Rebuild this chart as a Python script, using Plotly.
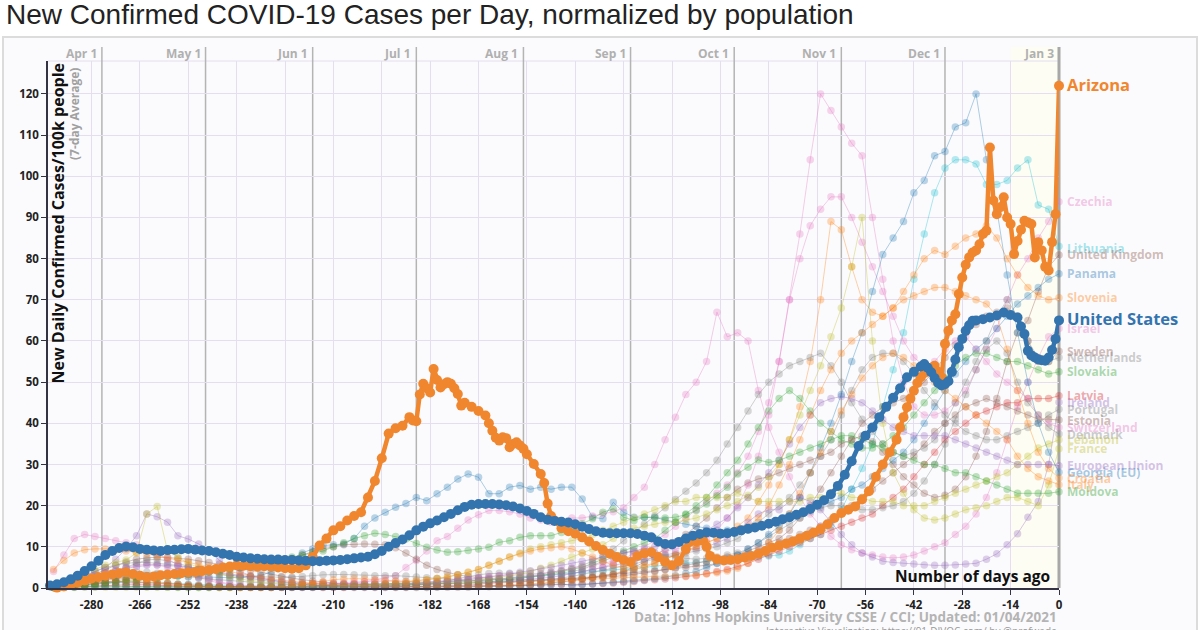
import plotly.graph_objects as go

# ---------------- data ----------------
# background countries: value every 3rd day, days -291 .. 0
bg_days = list(range(-291, 1, 3))

czechia = [0.1,0.3,0.5,0.8,1.0,1.2,1.3,1.2,1.0,0.9, 0.8,0.6,0.5,0.4,0.3,0.3,0.3,0.3,0.3,0.4,
           0.5,0.6,0.6,0.7,0.9,1.1,1.2,1.1,1.0,1.0, 0.9,0.9,0.9,1.0,1.1,1.2,1.4,1.6,1.8,2.0,
           1.5,1.6,1.8,2.0,2.2,2.4,2.6,2.8,3.0,3.2, 3.5,4,4.5,5,6,7,8.5,10,11.5,13,
           15,17,19,21,23,25,28,32,38,45, 55,70,86,104,120,116,112,108,105,90,
           75,60,50,44,42,42,43,45,48,53, 58,63,70,76,80,85,89,93.8]
israel = [0.3,0.6,1.0,1.8,2.7,3.6,4.4,5.0,5.5,5.8, 5.6,5.0,4.2,3.3,2.5,1.8,1.2,0.8,0.5,0.3,
          0.2,0.2,0.2,0.2,0.3,0.4,0.5,0.7,0.9,1.2, 1.5,2,2.5,3,5,6.7,9,11.5,12.5,14.5,
          16.5,17.8,18.8,18.8,18.5,18,17,16.5,16,15.5, 17,17,17.5,18,18.5,19.5,22,24.5,30,36,
          41.5,47,50,55,67,61,62,60,48,39, 33,27,22,18,15,12.5,10.5,9.3,8.5,8,
          7.5,7.3,7.5,8,9,10,11,13,15,18, 22,28,36,44,50,56,61,63]
switzerland = [4,8,12,13,12.5,12,11.5,11,10.5,9.5, 8.5,7,5.5,4.2,3,2.2,1.5,1,0.7,0.5,
               0.4,0.3,0.3,0.3,0.4,0.5,0.7,1,1.3,1.5, 1.5,1.6,1.6,1.7,1.6,1.5,1.5,1.6,1.8,2.0,
               2.2,2.5,2.8,3.0,3.0,2.9,3.0,3.3,3.8,4.3, 4.8,5.2,5.5,6.0,6.5,7.0,7.5,8.0,8.5,9.0,
               9.5,10,11,12,14,17,20,25,32,42, 55,70,80,88,92,95,95,90,84,78,
               72,66,60,56,54,55,58,60,61,58, 55,52,50,48,46,42,40,39]
lithuania = [0.2,0.3,0.5,0.8,1.0,1.2,1.3,1.4,1.5,1.4, 1.3,1.2,1.0,0.9,0.8,0.7,0.6,0.5,0.5,0.4,
             0.4,0.4,0.4,0.4,0.5,0.5,0.6,0.7,0.8,0.8, 0.8,0.9,1.0,1.0,1.1,1.2,1.3,1.4,1.5,1.6,
             1.7,1.8,2.0,2.2,2.4,2.6,2.8,3.0,3.2,3.4, 3.5,3.7,3.9,4.1,4.3,4.5,4.7,5.0,5.3,5.6,
             5.8,6.0,6.2,6.4,6.6,6.8,7.0,7.2,7.5,7.8, 8,9,10.5,12,13,15,19,24,29,35,
             44,53,62,75,86,96,102,104,104,103, 98,98,99,102,104,93,92,83]
united_kingdom = [0.3,0.6,1.2,2.2,3.3,4.5,5.5,6.3,7.0,7.3, 7.5,7.4,7.2,7.0,6.6,6.2,5.8,5.3,4.8,4.3,
                  3.8,3.3,2.8,2.4,2.0,1.7,1.4,1.2,1.1,1.0, 1.0,0.9,0.9,0.9,0.9,1.0,1.0,1.1,1.1,1.2,
                  1.2,1.3,1.3,1.4,1.5,1.6,1.6,1.7,1.8,1.9, 2.0,2.2,2.5,2.8,3.2,4.0,5.0,6.3,7.8,9.5,
                  11,13,15,17,19.5,22,24,25.5,26.5,27, 28,29,30,31,32,33,35,36,37,35.5,
                  33,30,27,25,23,22,22.5,24,27,32, 38,46,55,62,65,72,78,80.9]
panama = [0.2,0.4,0.8,1.2,1.6,2.0,2.3,2.6,2.8,3.0, 3.0,3.0,2.9,2.8,2.7,2.6,2.5,2.5,2.6,2.8,
          3,4,5.5,7,8.5,9.5,10.3,10.5,10.7,12, 15,17,18.4,19.6,20.5,22,21.2,22.9,24.5,26.5,
          27.7,26.9,22.9,22.9,24.5,24.9,24,24.5,24,24.5, 24.5,21.6,17.2,16.8,20.8,18.4,17.2,17.2,17.2,16.5,
          16,15.5,15,14.5,14,14,14,14.5,15,15.5, 16,17,18,19,20,21,22,24,25,27,
          29,31,33,36,40,44,48,52,55,58, 60,63,66,69,71,73,75,76.3]
georgia = [0.1,0.1,0.2,0.3,0.3,0.4,0.4,0.4,0.4,0.4, 0.4,0.4,0.3,0.3,0.3,0.2,0.2,0.2,0.2,0.2,
           0.2,0.2,0.2,0.2,0.2,0.2,0.3,0.3,0.3,0.3, 0.3,0.3,0.3,0.3,0.3,0.3,0.3,0.3,0.4,0.4,
           0.4,0.4,0.4,0.4,0.5,0.5,0.6,0.7,0.8,1.0, 0.6,0.8,1,1.2,1.4,1.6,1.8,2,2.3,2.6,
           3,3.5,4,5,6,7,8,9.5,11,13, 15,18,22,28,34,40,47,55,62,72,
           81,85,89,96,99,105,106,112,113,120, 104,92,76,62,50,40,33,28.1]
slovenia = [0.2,0.5,1.0,1.5,2.0,2.3,2.4,2.3,2.1,1.8, 1.5,1.2,0.9,0.7,0.5,0.4,0.3,0.2,0.2,0.2,
            0.2,0.2,0.3,0.4,0.5,0.5,0.6,0.6,0.7,0.8, 0.9,1.0,1.0,1.0,1.0,0.9,0.9,0.9,1.0,1.0,
            1.0,1.0,1.1,1.2,1.3,1.4,1.5,1.6,1.8,2.0, 2.2,2.5,2.8,3.0,3.5,4.0,4.5,5.0,6.0,7.0,
            8,9,10,11,12,13,15,17,21,25, 30,36,44,55,70,89,87,78,70,67,
            66,68,72,76,80,82,81,83,85,86, 88,85,80,76,73,71,70,70.5]
croatia = [0.1,0.3,0.6,1.0,1.3,1.5,1.6,1.6,1.5,1.3, 1.1,0.9,0.7,0.5,0.4,0.3,0.2,0.2,0.1,0.1,
           0.1,0.2,0.3,0.5,0.8,1.2,1.6,2.0,2.2,2.3, 2.2,2.0,1.8,1.7,1.6,1.8,2.0,2.3,2.7,3.2,
           3.8,4.5,5.5,6.5,7.5,8.3,9.0,9.5,9.8,10.0, 9.5,8.5,7.5,6.5,5.5,5.0,5.0,5.5,6.0,7.0,
           8,9,10,11,12,13,14,15,17,20, 25,30,36,42,48,53,57,60,62,64,
           66,68,70,71,72,73,73,72,71,70, 69,66,58,48,40,33,29,26.7]
italy = [4.5,6.7,8.5,9.3,9.5,9.5,9.3,9.0,8.7,8.3, 7.8,7.3,6.8,6.3,5.7,5.1,4.5,4.0,3.5,3.0,
         2.6,2.2,1.9,1.6,1.3,1.1,0.9,0.7,0.6,0.5, 0.45,0.4,0.4,0.35,0.35,0.35,0.35,0.35,0.4,0.4,
         0.4,0.45,0.5,0.6,0.7,0.8,1.0,1.2,1.4,1.6, 1.8,2.0,2.2,2.3,2.4,2.5,2.5,2.6,2.7,2.8,
         2.9,3.0,3.2,3.4,3.7,4.1,4.8,6.0,8.0,11, 14,18,23,28,33,38,43,47,51,54,
         56,57,56,54,52,50,48,46,44,42, 40,38,36,32,29,27,26,25.1]
sweden = [0.2,0.3,0.5,0.8,1.1,1.4,1.8,2.1,2.5,2.9, 3.3,3.7,4.0,4.3,4.5,4.6,4.7,4.8,5.0,5.3,
          5.6,6.0,6.5,7.2,8.0,8.8,9.5,10.0,10.5,10.6, 10.7,10.6,10.5,9.8,8.5,7.0,5.5,4.5,3.8,3.2,
          2.8,2.5,2.3,2.1,2.0,1.9,1.9,2.0,2.1,2.2, 2.3,2.4,2.5,2.6,2.8,3.0,3.3,3.6,4.0,4.5,
          5,5.5,6,6.5,7,7.5,8,9,10,11, 12,14,17,20,24,28,32,36,40,42,
          44,45,46,48,50,53,56,59,62,64, 66,67,68,66,60,55,55,57.5]
netherlands = [0.5,1.0,2.0,3.0,4.0,5.0,5.5,6.0,6.2,6.2, 6.0,5.8,5.5,5.1,4.6,4.1,3.6,3.1,2.7,2.3,
               1.9,1.6,1.3,1.1,0.9,0.7,0.6,0.5,0.5,0.5, 0.5,0.5,0.5,0.6,0.7,0.8,1.0,1.3,1.7,2.3,
               2.8,3.2,3.5,3.6,3.6,3.5,3.4,3.5,3.8,4.2, 4.8,5.5,6.5,7.8,9.5,11.5,13.5,15.5,17.5,19.5,
               21.5,23.5,25.5,28,31,35,39,43,47,50, 52,54,55,56,57,54,50,45,41,38,
               35,33,32,33,34,36,40,45,50,55, 60,66,70,66,60,56,55,56]
slovakia = [0.1,0.2,0.3,0.4,0.5,0.5,0.5,0.4,0.4,0.3, 0.3,0.2,0.2,0.1,0.1,0.1,0.1,0.1,0.1,0.1,
            0.1,0.1,0.2,0.2,0.3,0.3,0.4,0.4,0.5,0.5, 0.5,0.5,0.6,0.7,0.8,0.9,1.0,1.0,1.0,1.1,
            1.2,1.3,1.5,1.7,2.0,2.3,2.6,3.0,3.5,4.0, 4.5,5,6,7,8,9,10,11,12,14,
            16,18,20,22,25,28,31,35,39,43, 46,48,46,43,40,38,36,35,34,34,
            35,37,39,42,45,48,51,54,56,57, 57,56,55,55,54,53,52,52.5]
latvia = [0.1,0.2,0.3,0.5,0.6,0.7,0.8,0.8,0.8,0.7, 0.7,0.6,0.5,0.4,0.4,0.3,0.3,0.3,0.2,0.2,
          0.2,0.2,0.2,0.2,0.2,0.2,0.2,0.2,0.2,0.3, 0.3,0.3,0.3,0.3,0.3,0.4,0.4,0.4,0.5,0.5,
          0.5,0.5,0.6,0.6,0.6,0.7,0.7,0.7,0.8,0.8, 0.8,0.9,1.0,1.1,1.2,1.4,1.6,1.8,2.0,2.2,
          2.5,2.8,3.0,3.5,4.0,4.5,5.2,6.0,7.0,8.0, 9,10,11,12,13,14,15,16,17,18,
          20,22,24,27,30,33,36,38,40,42, 43,44,45,45,46,46,46,46.7]
ireland = [0.5,1.0,2.0,3.0,4.0,5.0,7.0,9.5,12.7,18, 17.3,16,12.7,11.9,10.7,9.2,6.7,5.2,4.0,3.0,
           2.4,1.9,1.5,1.2,0.9,0.7,0.6,0.5,0.4,0.3, 0.3,0.3,0.3,0.3,0.3,0.4,0.4,0.5,0.5,0.6,
           0.7,0.9,1.1,1.4,1.7,1.9,2.1,2.3,2.6,3.0, 3.5,4.0,4.5,5.0,5.5,6.0,6.5,7.0,7.5,8.0,
           8.5,9,9.5,10,11,12,14,16,18,19, 19,21,22,21,19,16,13,10.5,8.5,7.5,
           6.5,6.2,6.0,5.8,5.6,5.5,5.5,5.6,5.8,6.0, 7,8.3,10.5,13.2,17.2,21,30,45.1]
portugal = [0.3,0.6,1.0,1.5,2.2,3.0,4.0,5.0,6.0,6.8, 7.0,6.6,6.0,5.3,4.5,3.8,3.3,3.0,2.9,2.8,
            2.7,2.6,2.6,2.7,2.8,3.0,3.2,3.3,3.3,3.2, 3.1,3.0,3.0,3.0,2.9,2.7,2.5,2.3,2.2,2.1,
            2.0,1.8,1.6,1.5,1.5,1.6,1.7,1.9,2.1,2.4, 2.8,3.3,3.8,4.3,4.8,5.3,5.8,6.5,7.0,7.5,
            8,8.5,9,9.5,10,11,12,14,16,18, 20,22,25,28,32,36,42,48,53,56,
            57,57,55,52,48,45,42,40,38,37, 36,36,37,38,39,40,42,43.4]
estonia = [0.2,0.4,0.6,0.9,1.2,1.4,1.5,1.5,1.4,1.3, 1.2,1.1,0.9,0.8,0.6,0.5,0.4,0.3,0.3,0.2,
           0.2,0.1,0.1,0.1,0.1,0.1,0.1,0.1,0.1,0.1, 0.1,0.1,0.1,0.1,0.1,0.1,0.1,0.2,0.2,0.2,
           0.2,0.3,0.3,0.4,0.5,0.6,0.8,1.0,1.2,1.5, 1.8,2.2,2.7,3.0,3.3,3.5,3.8,4.0,4.2,4.5,
           4.8,5.0,5.3,5.5,6.0,6.5,7.0,8.0,9.0,10, 11,12,13,14,15,16.5,18,20,22,24,
           26,28,30,32,35,38,40,42,44,45, 46,45,44,43,42,41,41,40.8]
denmark = [0.2,0.5,1.0,1.6,2.2,2.8,3.3,3.6,3.8,3.8, 3.6,3.3,3.0,2.7,2.4,2.2,2.0,1.8,1.6,1.4,
           1.2,1.0,0.9,0.8,0.7,0.6,0.5,0.5,0.5,0.5, 0.5,0.5,0.5,0.5,0.6,0.7,0.8,1.0,1.2,1.4,
           1.6,1.8,2.0,2.2,2.4,2.6,2.8,3.0,3.3,3.6, 4.0,4.5,5.5,6.5,7.5,8.5,9.0,9.0,8.5,8.0,
           7.5,7.2,7.0,7.2,7.5,8.0,8.5,9.5,11,12.5, 14,15.5,17,18.5,19.5,20,20,19.5,19,19,
           19.5,20,21,23,26,30,35,41,47,53, 58,60,57,50,45,42,39,37.4]
lebanon = [0.1,0.1,0.1,0.2,0.2,0.2,0.2,0.2,0.2,0.2, 0.2,0.2,0.1,0.1,0.1,0.1,0.1,0.1,0.2,0.3,
           0.4,0.3,0.3,0.3,0.4,0.4,0.4,0.4,0.4,0.5, 0.6,0.8,1.0,1.2,1.4,1.7,2.0,2.3,2.7,3.2,
           3.8,4.5,5.5,6.5,7.5,8.5,9.5,10,10.5,11, 11.5,12,13,14,15,16,17,18,19,20,
           21,21,22,22,22,22,23,22,21,21, 21,21,21,22,22,23,23,22,22,21,
           21,21,20,20,20,21,22,23,24,25, 26,27,28,30,32,34,35,36]
france = [0.8,1.5,2.5,3.5,4.5,5.5,6.2,6.8,8.5,18, 19.8,9,7.5,6,5,4.2,3.5,2.8,2.2,1.8,
          1.5,1.3,1.1,1.0,0.9,0.8,0.8,0.8,0.8,0.8, 0.8,0.8,0.8,0.9,1.0,1.1,1.2,1.3,1.4,1.5,
          1.7,1.9,2.2,2.6,3.0,3.5,4.0,4.8,5.5,6.5, 7.5,8.5,9.5,10.5,12,13.5,14.5,15,15.5,16,
          16,16.5,17,18,19,20,21,22.5,24.5,27, 30,36,42,48,54,61,68,78,90,60,
          40,28,23,19,17,16.5,17,18,19,19.5, 20,21,22,22,21,20,25,33.8]
european_union = [0.5,1.0,1.6,2.3,3.0,3.7,4.3,4.8,5.2,5.5, 5.6,5.5,5.3,5.0,4.6,4.2,3.8,3.4,3.0,2.6,
                  2.2,1.9,1.6,1.4,1.2,1.1,1.0,0.9,0.9,0.9, 0.9,0.9,0.9,1.0,1.0,1.1,1.2,1.3,1.5,1.7,
                  2.0,2.3,2.6,3.0,3.4,3.8,4.2,4.6,5.0,5.5, 6.0,6.5,7.0,7.5,8.0,8.5,9.0,9.5,10,10.5,
                  11,12,13,14,15.5,17,19.5,22,25,28, 31,35,39,42,45,46,46.5,46,45,43,
                  41,39,38,37,37,37,37,36,35,34, 33,32,31,30,30,30,30,29.7]
moldova = [0.1,0.2,0.4,0.6,0.9,1.2,1.5,1.8,2.0,2.3, 2.5,2.8,3.0,3.3,3.6,3.9,4.2,4.5,5.0,5.5,
           6,6.5,7,7.5,8,8.5,9,10,11,12, 12.7,13.3,13.0,12.5,11.9,10.8,9.9,9.2,8.7,8.8,
           9.1,9.5,9.9,11.1,11.5,12.3,12.7,12.7,12.7,13.5, 14,15.6,16.8,18.4,19.2,17.2,16.4,17.2,17,17,
           17.2,17.8,18.8,20.4,22.4,24.5,27.7,29.3,31.1,30.5, 31,32,33,34,35,36,37,37,36,35,
           34,33,32,31,30,30,29,28,28,27, 26,25,24,23,23,23,23,23.4]

# highlighted series: (days ago, cases per 100k)
arizona = [(-290,0.1),(-288,0.4),(-286,0.8),(-284,1.3),(-282,1.8),(-280,2.3),(-278,2.6),(-276,3.0),
           (-274,3.3),(-272,3.6),(-270,3.8),(-268,3.4),(-266,3.0),(-264,2.6),(-262,2.8),(-260,3.1),
           (-258,3.2),(-256,3.4),(-254,3.6),(-252,3.8),(-250,3.9),(-248,4.1),(-246,4.3),(-244,4.6),
           (-242,5.0),(-240,5.2),(-238,5.5),(-236,5.4),(-234,5.3),(-232,5.2),(-230,5.3),(-228,5.2),
           (-226,5.0),(-224,4.8),(-222,4.7),(-220,4.8),(-218,5.5),(-216,7.5),(-214,10.3),(-212,12.0),
           (-210,14.0),(-208,15.0),(-206,16.4),(-204,17.5),(-202,18.4),(-200,22.0),(-198,26.0),
           (-196,31.5),(-194,37.5),(-192,38.8),(-190,39.4),(-188,41.5),(-187,40.7),(-186,40.5),
           (-185,47.0),(-184,49.6),(-183,48.5),(-182,47.5),(-181,53.2),(-180,50.5),(-179,48.7),
           (-178,49.5),(-177,50.0),(-176,49.6),(-175,48.5),(-174,47.1),(-173,44.3),(-172,45.0),
           (-170,44.0),(-168,43.0),(-166,41.9),(-165,40.0),(-164,38.2),(-163,36.5),(-162,35.8),
           (-161,36.6),(-160,36.4),(-159,34.2),(-158,35.0),(-157,35.4),(-156,34.6),(-155,33.8),
           (-154,32.5),(-152,30.1),(-150,27.7),(-149,25.5),(-148,20.5),(-147,17.5),(-146,16.4),
           (-144,14.5),(-142,13.8),(-140,13.2),(-138,12.3),(-136,11.3),(-134,10.2),(-132,9.2),
           (-130,8.3),(-128,7.5),(-126,6.8),(-124,6.3),(-122,7.8),(-120,8.4),(-118,8.7),(-116,7.5),
           (-114,6.3),(-112,5.5),(-110,6.5),(-108,9.5),(-107,11.1),(-105,11.3),(-103,11.5),
           (-102,10.0),(-101,7.8),(-99,7.0),(-97,6.7),(-95,6.8),(-93,7.0),(-91,7.4),(-89,7.8),
           (-87,8.3),(-85,9.0),(-83,9.8),(-81,10.3),(-79,10.8),(-77,11.3),(-75,12.0),(-73,12.7),
           (-71,13.5),(-69,14.3),(-67,15.5),(-65,17.0),(-63,18.2),(-61,19.0),(-59,19.8),(-57,21.5),
           (-55,23.5),(-53,27.0),(-51,30.0),(-49,33.0),(-47,36.0),(-46,39.0),(-45,41.5),(-44,43.9),
           (-43,46.0),(-42,47.9),(-41,49.8),(-40,51.2),(-39,52.2),(-38,52.8),(-37,53.5),(-36,54.0),
           (-35,52.5),(-34,51.2),(-33,59.3),(-32,62.5),(-31,65.0),(-30,66.5),(-29,71.4),(-28,75.4),
           (-27,78.5),(-26,80.3),(-25,81.5),(-24,82.0),(-23,83.5),(-22,86.0),(-21,86.8),(-20,107.0),
           (-19,94.1),(-18,90.8),(-17,92.5),(-16,94.9),(-15,90.0),(-14,88.4),(-13,81.1),(-12,84.3),
           (-11,87.0),(-10,89.2),(-9,88.8),(-8,88.4),(-7,80.3),(-6,84.0),(-5,82.0),(-4,78.0),
           (-3,77.1),(-2,84.0),(-1,90.8),(0,122.0)]
united_states = [(-292,0.6),(-290,0.9),(-288,1.4),(-286,2.1),(-284,3.0),(-282,4.1),(-280,5.3),
                 (-278,6.6),(-276,8.0),(-274,9.0),(-272,9.7),(-270,10.1),(-268,9.9),(-266,9.5),
                 (-264,9.3),(-262,9.1),(-260,9.0),(-258,9.2),(-256,9.3),(-254,9.4),(-252,9.5),
                 (-250,9.3),(-248,9.1),(-246,9.0),(-244,8.7),(-242,8.3),(-240,8.0),(-238,7.6),
                 (-236,7.4),(-234,7.2),(-232,7.1),(-230,7.0),(-228,6.9),(-226,6.9),(-224,6.8),
                 (-222,6.8),(-220,6.7),(-218,6.6),(-216,6.5),(-214,6.5),(-212,6.6),(-210,6.7),
                 (-208,6.8),(-206,7.0),(-204,7.2),(-202,7.4),(-200,7.6),(-198,8.2),(-196,9.0),
                 (-194,10.0),(-192,10.9),(-190,11.8),(-188,12.8),(-186,14.0),(-184,14.9),(-182,15.7),
                 (-180,16.4),(-178,17.2),(-176,18.0),(-174,18.9),(-172,19.7),(-170,20.2),(-168,20.4),
                 (-166,20.4),(-164,20.4),(-162,20.3),(-160,20.1),(-158,19.8),(-156,19.3),(-154,18.7),
                 (-152,18.0),(-150,17.2),(-148,16.6),(-146,16.3),(-144,16.1),(-142,15.9),(-140,15.5),
                 (-138,14.9),(-136,14.3),(-134,13.8),(-132,13.4),(-130,13.3),(-128,13.3),(-126,13.3),
                 (-124,13.3),(-122,13.1),(-120,12.7),(-118,12.3),(-116,11.3),(-114,10.7),(-112,10.6),
                 (-110,11.2),(-108,12.0),(-106,12.7),(-104,13.1),(-102,13.5),(-100,13.4),(-98,13.2),
                 (-96,13.3),(-94,13.6),(-92,14.0),(-90,14.4),(-88,14.7),(-86,15.1),(-84,15.6),
                 (-82,16.1),(-80,16.7),(-78,17.2),(-76,17.8),(-74,18.4),(-72,19.2),(-70,20.2),
                 (-68,21.3),(-66,22.8),(-64,24.8),(-62,27.5),(-60,30.8),(-58,34.5),(-56,37.0),
                 (-54,39.0),(-52,41.5),(-50,44.0),(-48,46.2),(-46,48.5),(-44,51.2),(-42,52.5),
                 (-40,53.8),(-39,54.4),(-38,53.5),(-37,52.4),(-36,51.0),(-35,49.8),(-34,49.2),
                 (-33,49.5),(-32,50.2),(-31,52.5),(-30,55.5),(-29,58.5),(-28,60.5),(-27,62.5),
                 (-26,63.8),(-25,64.9),(-24,65.0),(-22,65.3),(-20,65.7),(-18,66.2),(-16,66.9),
                 (-14,66.3),(-12,65.7),(-11,63.5),(-10,61.7),(-9,57.6),(-8,56.5),(-7,56.0),(-6,55.5),
                 (-5,55.3),(-4,55.2),(-3,56.0),(-2,57.8),(-1,60.5),(0,65.0)]

bg_names = ["Czechia", "Lithuania", "United Kingdom", "Panama", "Slovenia", "Israel", "Sweden",
            "Netherlands", "Slovakia", "Latvia", "Ireland", "Portugal", "Estonia", "Switzerland",
            "Denmark", "Lebanon", "France", "European Union", "Georgia (EU)", "Croatia", "Italy",
            "Moldova"]
bg_values = [czechia, lithuania, united_kingdom, panama, slovenia, israel, sweden, netherlands,
             slovakia, latvia, ireland, portugal, estonia, switzerland, denmark, lebanon, france,
             european_union, georgia, croatia, italy, moldova]
# vertical position of the end labels (label collision-avoided positions)
bg_label_y = [93.8, 82.4, 80.9, 76.3, 70.5, 63.0, 57.5, 56.0, 52.5, 46.7, 45.1, 43.4, 40.8, 39.0,
              37.4, 36.0, 33.8, 29.7, 28.1, 26.7, 25.1, 23.4]
arizona_label_y = 122.2
us_label_y = 65.4

x_ticks = list(range(-280, 1, 14))
y_ticks = list(range(0, 121, 10))
month_labels = ["Apr 1", "May 1", "Jun 1", "Jul 1", "Aug 1", "Sep 1", "Oct 1", "Nov 1", "Dec 1", "Jan 3"]
month_days = [-277, -247, -216, -186, -155, -124, -94, -63, -33, 0]

# ---------------- styling ----------------
PINK, CYAN, BROWN, BLUE = (227, 119, 194), (23, 190, 207), (140, 86, 75), (31, 119, 180)
ORANGE, GRAY, GREEN, RED = (255, 127, 14), (127, 127, 127), (44, 160, 44), (214, 39, 40)
PURPLE, OLIVE = (148, 103, 189), (188, 189, 34)
bg_colors = [PINK, CYAN, BROWN, BLUE, ORANGE, PINK, BROWN, GRAY, GREEN, RED, PURPLE, GRAY, BROWN,
             PINK, GRAY, OLIVE, OLIVE, PURPLE, BLUE, ORANGE, ORANGE, GREEN]
AZ_COLOR = "#f0862e"
US_COLOR = "#3474ae"
FONT = "Open Sans"

def rgba(c, a):
    return "rgba(%d,%d,%d,%.2f)" % (c[0], c[1], c[2], a)

W, H = 1200, 630
ML, MR, MT, MB = 48, 141, 61, 42
PW, PH = W - ML - MR, H - MT - MB
XR = [-292.6, 0]
YR = [0, 128]

def px(p):   # pixel x -> paper
    return (p - ML) / PW

def py(p):   # pixel y -> paper
    return (H - MB - p) / PH

def dx(d):   # day -> paper x
    return (d - XR[0]) / (XR[1] - XR[0])

fig = go.Figure()

for name, vals, col in zip(bg_names, bg_values, bg_colors):
    fig.add_trace(go.Scatter(
        x=bg_days, y=vals, mode="lines+markers", name=name, cliponaxis=False,
        line=dict(color=rgba(col, 0.36), width=1),
        marker=dict(color=rgba(col, 0.30), size=7.5, line=dict(width=0)),
        hoverinfo="skip"))

fig.add_trace(go.Scatter(
    x=[d for d, _ in arizona], y=[v for _, v in arizona], mode="lines+markers", name="Arizona",
    cliponaxis=False, line=dict(color=AZ_COLOR, width=4.5), marker=dict(color=AZ_COLOR, size=10),
    hoverinfo="skip"))
fig.add_trace(go.Scatter(
    x=[d for d, _ in united_states], y=[v for _, v in united_states], mode="lines+markers",
    name="United States", cliponaxis=False, line=dict(color=US_COLOR, width=4.5),
    marker=dict(color=US_COLOR, size=10), hoverinfo="skip"))

shapes = []
# outer panel
shapes.append(dict(type="rect", xref="paper", yref="paper", x0=px(3), x1=px(1197), y0=py(660), y1=py(37),
                   fillcolor="#fbfbfd", line=dict(color="#dcdcdc", width=2), layer="below"))
# last-14-days band
shapes.append(dict(type="rect", xref="paper", yref="paper", x0=dx(-14), x1=dx(0), y0=0, y1=py(47),
                   fillcolor="#fdfdf3", line=dict(width=0), layer="below"))
# top grid line
shapes.append(dict(type="line", xref="paper", yref="paper", x0=0, x1=1, y0=1, y1=1,
                   line=dict(color="#e4def0", width=1), layer="below"))
# month lines
for d in month_days:
    shapes.append(dict(type="line", xref="paper", yref="paper", x0=dx(d), x1=dx(d), y0=0, y1=py(47),
                       line=dict(color="#b4b4b4" if d != 0 else "#a8a8a8", width=1.5 if d != 0 else 3),
                       layer="below"))

ann = []
ann.append(dict(text="New Confirmed COVID-19 Cases per Day, normalized by population",
                xref="paper", yref="paper", x=px(4), y=py(14), xanchor="left", yanchor="middle",
                showarrow=False, font=dict(family="Liberation Sans", size=28, color="#222222")))
for lab, d in zip(month_labels, month_days):
    ann.append(dict(text=lab, xref="x", yref="paper", x=d, xshift=-3, y=py(53), xanchor="right",
                    yanchor="middle", showarrow=False,
                    font=dict(family=FONT, size=12, color="#b0b0b0", weight="bold")))
ann.append(dict(text="New Daily Confirmed Cases/100k people", textangle=-90, xref="paper", yref="paper",
                x=px(57), y=py(61), xanchor="center", yanchor="top", showarrow=False,
                font=dict(family=FONT, size=16, color="#111111", weight="bold")))
ann.append(dict(text="(7-day Average)", textangle=-90, xref="paper", yref="paper",
                x=px(74), y=py(66), xanchor="center", yanchor="top", showarrow=False,
                font=dict(family=FONT, size=12, color="#a0a0a0", weight="bold")))
ann.append(dict(text="Number of days ago", xref="x", yref="paper", x=0, xshift=-7, y=py(576),
                xanchor="right", yanchor="middle", showarrow=False,
                font=dict(family=FONT, size=15.5, color="#111111", weight="bold")))
ann.append(dict(text="Data: Johns Hopkins University CSSE / CCI; Updated: 01/04/2021", xref="x",
                yref="paper", x=0, y=py(617), xanchor="right", yanchor="middle", showarrow=False,
                font=dict(family=FONT, size=13.5, color="#b4b4b4", weight="bold")))
ann.append(dict(text="Interactive Visualization: https://91-DIVOC.com/ by @profwade", xref="x",
                yref="paper", x=0, y=py(631), xanchor="right", yanchor="middle", showarrow=False,
                font=dict(family=FONT, size=10, color="#999999")))
for name, col, ly in zip(bg_names, bg_colors, bg_label_y):
    ann.append(dict(text=name, xref="x", yref="y", x=0, y=ly, xshift=6, xanchor="left",
                    yanchor="middle", showarrow=False,
                    font=dict(family=FONT, size=12, color=rgba(col, 0.40), weight="bold")))
ann.append(dict(text="Arizona", xref="x", yref="y", x=0, y=arizona_label_y, xshift=6, xanchor="left",
                yanchor="middle", showarrow=False,
                font=dict(family=FONT, size=16.5, color=AZ_COLOR, weight="bold")))
ann.append(dict(text="United States", xref="x", yref="y", x=0, y=us_label_y, xshift=6, xanchor="left",
                yanchor="middle", showarrow=False,
                font=dict(family=FONT, size=16.5, color=US_COLOR, weight="bold")))

fig.update_layout(
    width=W, height=H, autosize=False,
    margin=dict(l=ML, r=MR, t=MT, b=MB),
    paper_bgcolor="white", plot_bgcolor="rgba(0,0,0,0)",
    showlegend=False, hovermode=False,
    shapes=shapes, annotations=ann,
    xaxis=dict(range=XR, tickvals=x_ticks, ticktext=[str(t) for t in x_ticks],
               showgrid=True, gridcolor="#e4def0", gridwidth=1, zeroline=False,
               showline=True, linecolor="#333344", linewidth=1.5, ticks="outside", ticklen=5,
               tickcolor="#333344", tickfont=dict(family=FONT, size=11.5, color="#222222", weight="bold")),
    yaxis=dict(range=YR, tickvals=y_ticks, showgrid=True, gridcolor="#e4def0", gridwidth=1,
               zeroline=False, showline=True, linecolor="#333344", linewidth=1.5, ticks="outside",
               ticklen=5, tickcolor="#333344",
               tickfont=dict(family=FONT, size=11.5, color="#222222", weight="bold")),
)

fig.write_html("out.html", config={"displayModeBar": False},
               post_script="document.body.style.margin='0px';")
